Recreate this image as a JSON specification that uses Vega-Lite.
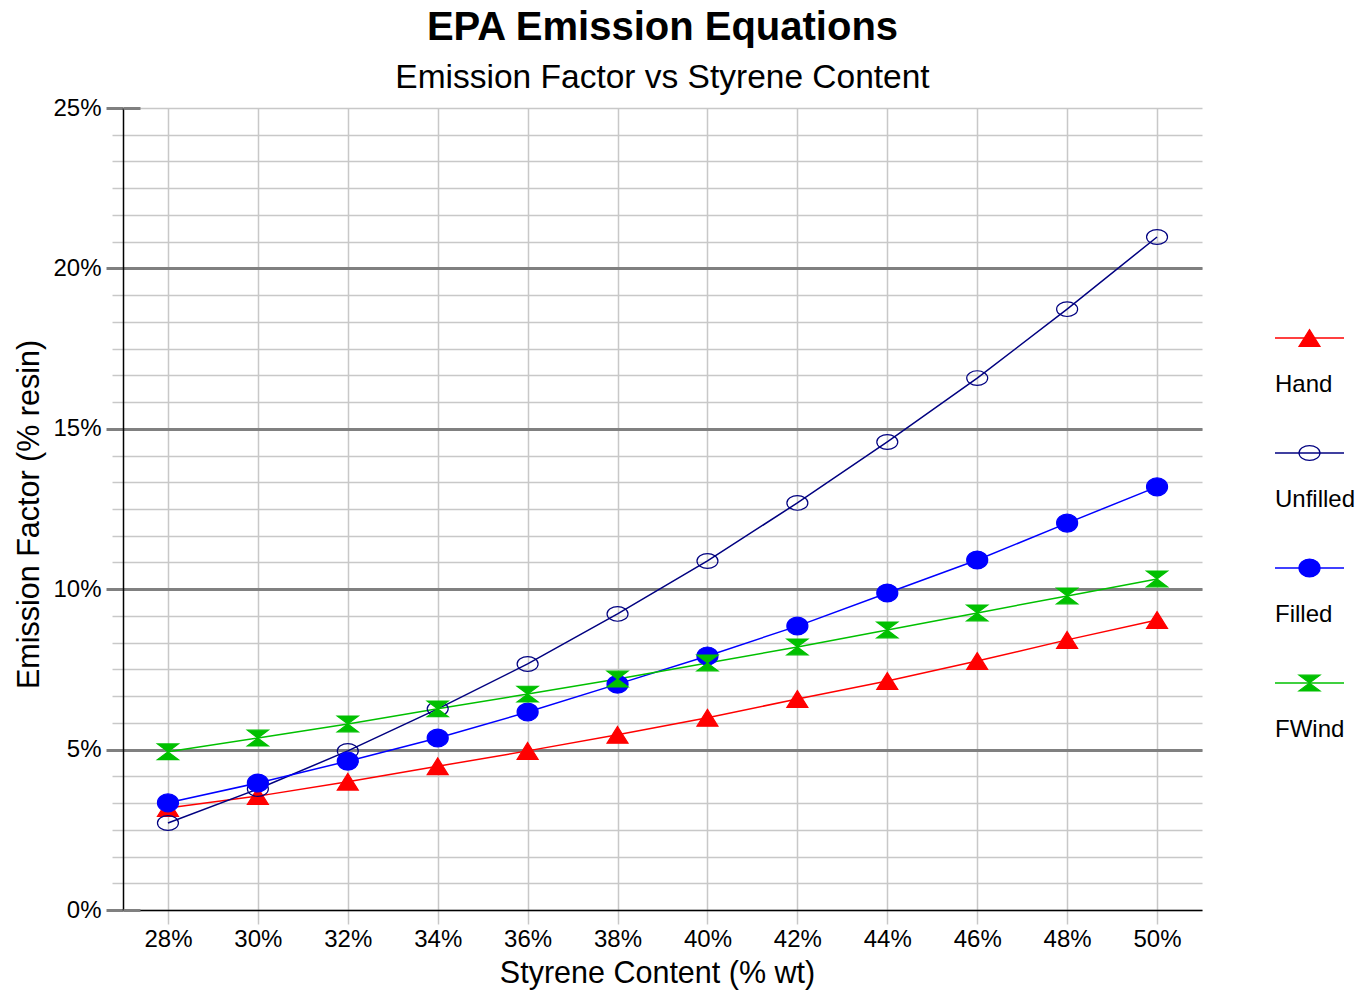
{
  "$schema": "https://vega.github.io/schema/vega-lite/v6.json",
  "padding": {"left": 14, "top": 7, "right": 4, "bottom": 4},
  "config": {"font": "Liberation Sans", "view": {"stroke": null}, "concat": {"spacing": 72}},
  "datasets": {
    "emissions": [
      {"styrene": 28, "emission": 3.18, "series": "Hand"},
      {"styrene": 30, "emission": 3.55, "series": "Hand"},
      {"styrene": 32, "emission": 4.0, "series": "Hand"},
      {"styrene": 34, "emission": 4.48, "series": "Hand"},
      {"styrene": 36, "emission": 4.96, "series": "Hand"},
      {"styrene": 38, "emission": 5.46, "series": "Hand"},
      {"styrene": 40, "emission": 5.99, "series": "Hand"},
      {"styrene": 42, "emission": 6.58, "series": "Hand"},
      {"styrene": 44, "emission": 7.14, "series": "Hand"},
      {"styrene": 46, "emission": 7.76, "series": "Hand"},
      {"styrene": 48, "emission": 8.42, "series": "Hand"},
      {"styrene": 50, "emission": 9.04, "series": "Hand"},
      {"styrene": 28, "emission": 2.71, "series": "Unfilled"},
      {"styrene": 30, "emission": 3.77, "series": "Unfilled"},
      {"styrene": 32, "emission": 4.96, "series": "Unfilled"},
      {"styrene": 34, "emission": 6.27, "series": "Unfilled"},
      {"styrene": 36, "emission": 7.67, "series": "Unfilled"},
      {"styrene": 38, "emission": 9.23, "series": "Unfilled"},
      {"styrene": 40, "emission": 10.88, "series": "Unfilled"},
      {"styrene": 42, "emission": 12.69, "series": "Unfilled"},
      {"styrene": 44, "emission": 14.59, "series": "Unfilled"},
      {"styrene": 46, "emission": 16.58, "series": "Unfilled"},
      {"styrene": 48, "emission": 18.73, "series": "Unfilled"},
      {"styrene": 50, "emission": 20.98, "series": "Unfilled"},
      {"styrene": 28, "emission": 3.34, "series": "Filled"},
      {"styrene": 30, "emission": 3.96, "series": "Filled"},
      {"styrene": 32, "emission": 4.64, "series": "Filled"},
      {"styrene": 34, "emission": 5.36, "series": "Filled"},
      {"styrene": 36, "emission": 6.17, "series": "Filled"},
      {"styrene": 38, "emission": 7.04, "series": "Filled"},
      {"styrene": 40, "emission": 7.92, "series": "Filled"},
      {"styrene": 42, "emission": 8.85, "series": "Filled"},
      {"styrene": 44, "emission": 9.88, "series": "Filled"},
      {"styrene": 46, "emission": 10.91, "series": "Filled"},
      {"styrene": 48, "emission": 12.06, "series": "Filled"},
      {"styrene": 50, "emission": 13.19, "series": "Filled"},
      {"styrene": 28, "emission": 4.93, "series": "FWind"},
      {"styrene": 30, "emission": 5.36, "series": "FWind"},
      {"styrene": 32, "emission": 5.8, "series": "FWind"},
      {"styrene": 34, "emission": 6.27, "series": "FWind"},
      {"styrene": 36, "emission": 6.73, "series": "FWind"},
      {"styrene": 38, "emission": 7.2, "series": "FWind"},
      {"styrene": 40, "emission": 7.7, "series": "FWind"},
      {"styrene": 42, "emission": 8.2, "series": "FWind"},
      {"styrene": 44, "emission": 8.73, "series": "FWind"},
      {"styrene": 46, "emission": 9.26, "series": "FWind"},
      {"styrene": 48, "emission": 9.79, "series": "FWind"},
      {"styrene": 50, "emission": 10.32, "series": "FWind"}
    ],
    "legendItems": [
      {"series": "Hand"},
      {"series": "Unfilled"},
      {"series": "Filled"},
      {"series": "FWind"}
    ]
  },
  "hconcat": [
    {
      "width": 1079,
      "height": 802,
      "title": {
        "text": "EPA Emission Equations",
        "subtitle": "Emission Factor vs Styrene Content",
        "anchor": "middle",
        "frame": "group",
        "font": "Liberation Sans",
        "fontSize": 40,
        "fontWeight": "bold",
        "color": "black",
        "subtitleFont": "Liberation Sans",
        "subtitleFontSize": 33.5,
        "subtitleColor": "black",
        "subtitlePadding": 14,
        "offset": 2
      },
      "data": {"name": "emissions"},
      "resolve": {"axis": {"y": "independent"}},
      "layer": [
        {
          "mark": {"type": "line", "strokeWidth": 1.5},
          "encoding": {
            "x": {
              "field": "styrene", "type": "quantitative",
              "scale": {"domain": [27, 51], "nice": false, "zero": false},
              "axis": {
                "values": [28, 30, 32, 34, 36, 38, 40, 42, 44, 46, 48, 50],
                "labelExpr": "datum.value + '%'",
                "grid": true, "gridColor": "#c8c8c8", "gridWidth": 1.5,
                "tickSize": 14, "tickColor": "#c8c8c8", "tickWidth": 1.5,
                "domainColor": "black", "domainWidth": 1.5,
                "labelFontSize": 24, "labelColor": "black", "labelPadding": 3,
                "labelFlush": false, "labelOverlap": false,
                "title": "Styrene Content (% wt)", "titleFontSize": 30.5,
                "titleFontWeight": "normal", "titleColor": "black", "titlePadding": 7,
                "titleX": 534
              }
            },
            "y": {
              "field": "emission", "type": "quantitative",
              "scale": {"domain": [0, 25], "nice": false},
              "axis": {
                "orient": "left",
                "values": [0, 0.8333, 1.6667, 2.5, 3.3333, 4.1667, 5, 5.8333, 6.6667, 7.5, 8.3333, 9.1667, 10, 10.8333, 11.6667, 12.5, 13.3333, 14.1667, 15, 15.8333, 16.6667, 17.5, 18.3333, 19.1667, 20, 20.8333, 21.6667, 22.5, 23.3333, 24.1667, 25],
                "grid": true, "gridColor": "#c8c8c8", "gridWidth": 1.5,
                "ticks": true, "tickSize": 11, "tickColor": "#c8c8c8", "tickWidth": 1.5,
                "labels": false, "domain": false, "title": null
              }
            },
            "color": {
              "field": "series", "type": "nominal",
              "scale": {"domain": ["Hand", "Unfilled", "Filled", "FWind"], "range": ["#ff0000", "#000080", "#0000ff", "#00c000"]},
              "legend": null
            }
          }
        },
        {
          "mark": {"type": "point", "filled": true, "opacity": 1, "size": 441, "strokeWidth": 1.2},
          "encoding": {
            "x": {"field": "styrene", "type": "quantitative"},
            "y": {
              "field": "emission", "type": "quantitative",
              "axis": {
                "orient": "left",
                "values": [0, 5, 10, 15, 20, 25],
                "labelExpr": "datum.value + '%'",
                "grid": true,
                "gridColor": {"condition": {"test": "datum.value === 0 || datum.value === 25", "value": "transparent"}, "value": "#808080"},
                "gridWidth": 3,
                "tickSize": 17, "tickColor": "#808080", "tickWidth": 3,
                "domainColor": "black", "domainWidth": 1.5,
                "labelFontSize": 24, "labelColor": "black", "labelPadding": 5,
                "labelFlush": false, "labelOverlap": false,
                "title": "Emission Factor (% resin)", "titleFontSize": 30.5,
                "titleFontWeight": "normal", "titleColor": "black", "titlePadding": 8,
                "titleY": 406
              }
            },
            "shape": {
              "field": "series", "type": "nominal",
              "scale": {"domain": ["Hand", "Unfilled", "Filled", "FWind"], "range": ["M0,-0.8L1,0.8L-1,0.8Z", "M-1,0A1,0.7 0 1,1 1,0A1,0.7 0 1,1 -1,0Z", "M-1,0A1,0.85 0 1,1 1,0A1,0.85 0 1,1 -1,0Z", "M-1,-0.75L1,-0.75L-1,0.75L1,0.75Z"]},
              "legend": null
            },
            "fill": {
              "field": "series", "type": "nominal",
              "scale": {"domain": ["Hand", "Unfilled", "Filled", "FWind"], "range": ["#ff0000", "transparent", "#0000ff", "#00c000"]},
              "legend": null
            },
            "stroke": {
              "field": "series", "type": "nominal",
              "scale": {"domain": ["Hand", "Unfilled", "Filled", "FWind"], "range": ["#ff0000", "#000080", "#0000ff", "#00c000"]},
              "legend": null
            }
          }
        },
        {
          "mark": {"type": "point", "opacity": 0},
          "encoding": {
            "x": {"field": "styrene", "type": "quantitative"},
            "y": {
              "field": "emission", "type": "quantitative",
              "axis": {
                "orient": "left", "offset": -17,
                "values": [0, 25],
                "grid": false,
                "tickSize": 17, "tickColor": "#808080", "tickWidth": 3,
                "labels": false, "domain": false, "title": null
              }
            }
          }
        }
      ]
    },
    {
      "width": 69,
      "height": 802,
      "data": {"name": "legendItems"},
      "encoding": {
        "y": {
          "field": "series", "type": "nominal",
          "scale": {"type": "point", "domain": ["Hand", "Unfilled", "Filled", "FWind"], "range": [230, 575], "padding": 0},
          "axis": null
        }
      },
      "layer": [
        {
          "mark": {"type": "rule", "strokeWidth": 1.5},
          "encoding": {
            "x": {"datum": 0, "type": "quantitative", "scale": {"domain": [0, 1]}, "axis": null},
            "x2": {"datum": 1},
            "color": {
              "field": "series", "type": "nominal",
              "scale": {"domain": ["Hand", "Unfilled", "Filled", "FWind"], "range": ["#ff0000", "#000080", "#0000ff", "#00c000"]},
              "legend": null
            }
          }
        },
        {
          "mark": {"type": "point", "filled": true, "opacity": 1, "size": 441, "strokeWidth": 1.2},
          "encoding": {
            "x": {"datum": 0.5, "type": "quantitative"},
            "shape": {
              "field": "series", "type": "nominal",
              "scale": {"domain": ["Hand", "Unfilled", "Filled", "FWind"], "range": ["M0,-0.8L1,0.8L-1,0.8Z", "M-1,0A1,0.7 0 1,1 1,0A1,0.7 0 1,1 -1,0Z", "M-1,0A1,0.85 0 1,1 1,0A1,0.85 0 1,1 -1,0Z", "M-1,-0.75L1,-0.75L-1,0.75L1,0.75Z"]},
              "legend": null
            },
            "fill": {
              "field": "series", "type": "nominal",
              "scale": {"domain": ["Hand", "Unfilled", "Filled", "FWind"], "range": ["#ff0000", "transparent", "#0000ff", "#00c000"]},
              "legend": null
            },
            "stroke": {
              "field": "series", "type": "nominal",
              "scale": {"domain": ["Hand", "Unfilled", "Filled", "FWind"], "range": ["#ff0000", "#000080", "#0000ff", "#00c000"]},
              "legend": null
            }
          }
        },
        {
          "mark": {"type": "text", "align": "left", "baseline": "alphabetic", "dy": 54, "fontSize": 24, "color": "black"},
          "encoding": {
            "x": {"datum": 0, "type": "quantitative"},
            "text": {"field": "series", "type": "nominal"}
          }
        }
      ]
    }
  ]
}
